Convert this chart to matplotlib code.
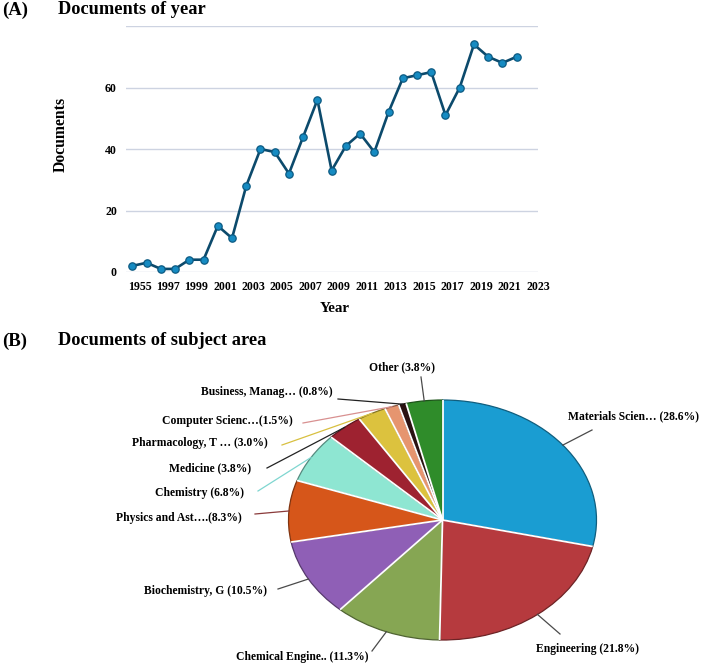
import numpy as np
import matplotlib
matplotlib.use('Agg')
import matplotlib.pyplot as plt
from matplotlib.colors import to_rgb

plt.rcParams['font.family'] = ['Liberation Serif', 'DejaVu Serif']
plt.rcParams['font.weight'] = 'bold'

# (A) documents per year
years = list(range(1995, 2023))
docs = [2, 3, 1, 1, 4, 4, 15, 11, 28, 40, 39, 32, 44, 56, 33,
        41, 45, 39, 52, 63, 64, 65, 51, 60, 74, 70, 68, 70]
year_ticks = ['1955', '1997', '1999', '2001', '2003', '2005', '2007', '2009',
              '2011', '2013', '2015', '2017', '2019', '2021', '2023']
doc_ticks = [0, 20, 40, 60, 80]

# (B) documents by subject area
subjects = ['Materials Scien… (28.6%)', 'Engineering (21.8%)',
            'Chemical Engine.. (11.3%)', 'Biochemistry, G (10.5%)',
            'Physics and Ast….(8.3%)', 'Chemistry (6.8%)', 'Medicine (3.8%)',
            'Pharmacology, T … (3.0%)', 'Computer Scienc…(1.5%)',
            'Business, Manag… (0.8%)', 'Other (3.8%)']
shares = [28.6, 21.8, 11.3, 10.5, 8.3, 6.8, 3.8, 3.0, 1.5, 0.8, 3.8]
colors = ['#1a9dd2', '#b63a3e', '#86a653', '#8f5fb6', '#d6561a', '#8ee6d2',
          '#9e2230', '#dcc23e', '#e6956f', '#2a1212', '#2f8c2a']

W, H = 702, 666
fig = plt.figure(figsize=(W / 100, H / 100), dpi=100)


def fig_px(x, y):
    return x / W, 1 - y / H


# ---- line chart ----
ax = fig.add_axes([126 / W, 1 - 272 / H, 412 / W, 246 / H])
ax.plot(years, docs, color='#0c4a6c', lw=1.9, marker='o', ms=5.3,
        mfc='#168bc2', mec='#0c5a82', mew=0.9, clip_on=False, zorder=3)
ax.set_xlim(1994.55, 2023.5)
ax.set_ylim(0, 80)
ax.set_xticks([years[0] + 0.5 + 2 * i for i in range(len(year_ticks))])
ax.set_xticklabels(year_ticks)
ax.set_yticks(doc_ticks)
ax.set_yticklabels([str(v) if v < 80 else '' for v in doc_ticks])
ax.grid(axis='y', color='#cdd3e1', lw=1)
ax.set_axisbelow(True)
for s in ax.spines.values():
    s.set_visible(False)
ax.tick_params(length=0, labelsize=8.6, pad=6.5)
ax.set_ylabel('Documents', fontsize=11.3, fontweight='bold', va='center')
ax.yaxis.set_label_coords((61 - 126) / 412, (272 - 134) / 246)
ax.set_xlabel('Year', fontsize=10.8, fontweight='bold', va='center')
ax.xaxis.set_label_coords((335 - 126) / 412, -(308 - 272) / 246)

fig.text(*fig_px(2, 15), '(A)', fontsize=13.5, fontweight='bold', va='baseline')
fig.text(*fig_px(58, 14), 'Documents of year', fontsize=13.2,
         fontweight='bold', va='baseline')
fig.text(*fig_px(2, 346), '(B)', fontsize=13.5, fontweight='bold', va='baseline')
fig.text(*fig_px(58, 345), 'Documents of subject area', fontsize=13.2,
         fontweight='bold', va='baseline')

# ---- pie chart (squashed ellipse) ----
cx, cy, rx, ry = 442.5, 520, 154, 120
ax2 = fig.add_axes([(cx - rx) / W, 1 - (cy + ry) / H, 2 * rx / W, 2 * ry / H])
wedges, _ = ax2.pie(shares, colors=colors, startangle=90, counterclock=False,
                    wedgeprops=dict(linewidth=0.9))
# darker outline per slice, white separators
for w, c in zip(wedges, colors):
    w.set_edgecolor(tuple(v * 0.6 for v in to_rgb(c)))
for w in wedges:
    t = np.deg2rad(w.theta1)
    ax2.plot([0, np.cos(t)], [0, np.sin(t)], color='white', lw=1.3,
             solid_capstyle='butt', zorder=5)
ax2.set_xlim(-1, 1)
ax2.set_ylim(-1, 1)
ax2.set_aspect('auto')
ax2.axis('off')


def pie_px(x, y):
    return (x - cx) / rx, (cy - y) / ry


# label layout: text anchor (px), alignment, leader outer end (px), leader colour
label_pos = [(568, 416, 'left'), (536, 649, 'left'), (368, 657, 'right'),
             (267, 591, 'right'), (242, 518, 'right'), (244, 493, 'right'),
             (251, 468, 'right'), (268, 443, 'right'), (293, 421, 'right'),
             (333, 392, 'right'), (402, 367, 'center')]
leader_end = [(592, 430), (560, 634), (372, 651), (278, 589), (255, 514),
              (258, 491), (267, 468), (282, 445), (303, 423), (338, 399),
              (421, 377)]
leader_col = ['#4a4a4a', '#4a4a4a', '#4a4a4a', '#4a4a4a', '#8a3a3a',
              '#7fd6d0', '#222222', '#d8c040', '#d89090', '#222222', '#4a4a4a']

for w, lab, (tx, ty, ha), (lx, ly), lc in zip(wedges, subjects, label_pos,
                                            leader_end, leader_col):
    mid = np.deg2rad((w.theta1 + w.theta2) / 2)
    ex, ey = np.cos(mid), np.sin(mid)
    ox, oy = pie_px(lx, ly)
    ax2.plot([ex, ox], [ey, oy], color=lc, lw=0.9, clip_on=False)
    px, py = pie_px(tx, ty)
    ax2.text(px, py, lab, ha=ha, va='center', fontsize=8.4,
             fontweight='bold', clip_on=False)

plt.savefig('out.png', dpi=100)
